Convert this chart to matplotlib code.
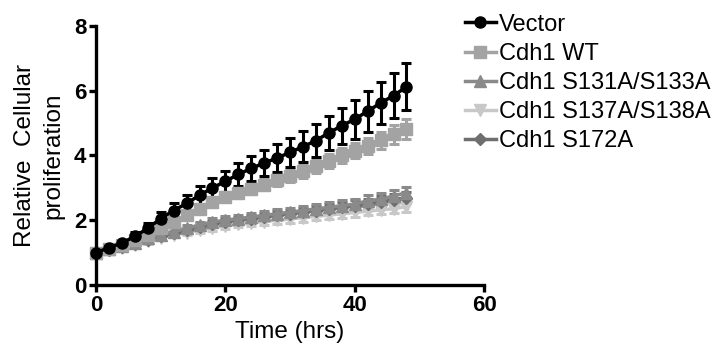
import numpy as np
import matplotlib.pyplot as plt
from matplotlib.lines import Line2D

plt.rcParams['font.family'] = ['Liberation Sans', 'DejaVu Sans']

# Time points (hrs)
hours = list(range(0, 50, 2))

vector = [1.0, 1.15, 1.3, 1.5, 1.75, 2.05, 2.3, 2.52, 2.77, 3.0, 3.2, 3.42, 3.6,
          3.77, 3.92, 4.1, 4.27, 4.46, 4.7, 4.92, 5.12, 5.37, 5.62, 5.85, 6.12]
vector_err = [0.05, 0.08, 0.1, 0.15, 0.18, 0.2, 0.22, 0.25, 0.28, 0.3, 0.33, 0.35, 0.38,
              0.4, 0.42, 0.45, 0.48, 0.5, 0.53, 0.56, 0.6, 0.63, 0.66, 0.7, 0.73]

wt = [1.0, 1.1, 1.25, 1.4, 1.55, 1.75, 1.95, 2.15, 2.35, 2.55, 2.72, 2.85, 2.97,
      3.1, 3.25, 3.38, 3.52, 3.67, 3.82, 4.0, 4.15, 4.3, 4.47, 4.65, 4.82]
wt_err = [0.04, 0.05, 0.06, 0.07, 0.08, 0.09, 0.1, 0.11, 0.12, 0.13, 0.14, 0.15, 0.16,
          0.17, 0.18, 0.19, 0.2, 0.21, 0.22, 0.23, 0.24, 0.25, 0.26, 0.28, 0.3]

s131 = [1.0, 1.1, 1.2, 1.3, 1.45, 1.55, 1.65, 1.75, 1.85, 1.95, 2.0, 2.05, 2.1,
        2.15, 2.2, 2.25, 2.3, 2.35, 2.4, 2.45, 2.5, 2.6, 2.65, 2.75, 2.85]
s131_err = [0.03, 0.04, 0.05, 0.06, 0.07, 0.08, 0.09, 0.1, 0.1, 0.11, 0.12, 0.12, 0.13,
            0.13, 0.14, 0.14, 0.15, 0.15, 0.16, 0.16, 0.17, 0.17, 0.18, 0.18, 0.19]

s137 = [1.0, 1.08, 1.15, 1.25, 1.35, 1.45, 1.55, 1.62, 1.7, 1.77, 1.83, 1.88, 1.92,
        1.96, 2.0, 2.04, 2.08, 2.12, 2.16, 2.2, 2.24, 2.28, 2.32, 2.36, 2.42]
s137_err = [0.03, 0.04, 0.05, 0.06, 0.07, 0.07, 0.08, 0.08, 0.09, 0.09, 0.1, 0.1, 0.1,
            0.11, 0.11, 0.11, 0.12, 0.12, 0.12, 0.13, 0.13, 0.13, 0.14, 0.14, 0.15]

s172 = [1.0, 1.09, 1.18, 1.28, 1.4, 1.5, 1.6, 1.7, 1.8, 1.88, 1.95, 2.0, 2.05,
        2.1, 2.15, 2.2, 2.25, 2.3, 2.35, 2.4, 2.45, 2.5, 2.57, 2.63, 2.7]
s172_err = [0.03, 0.04, 0.05, 0.06, 0.07, 0.08, 0.08, 0.09, 0.1, 0.1, 0.11, 0.11, 0.12,
            0.12, 0.13, 0.13, 0.14, 0.14, 0.15, 0.15, 0.16, 0.16, 0.17, 0.17, 0.18]

# drawn back to front
series = [
    ("Cdh1 S137A/S138A", s137, s137_err, '#c8c8c8', 'v'),
    ("Cdh1 S172A", s172, s172_err, '#6e6e6e', 'D'),
    ("Cdh1 S131A/S133A", s131, s131_err, '#8a8a8a', '^'),
    ("Cdh1 WT", wt, wt_err, '#a3a3a3', 's'),
    ("Vector", vector, vector_err, '#000000', 'o'),
]
legend_order = ["Vector", "Cdh1 WT", "Cdh1 S131A/S133A", "Cdh1 S137A/S138A", "Cdh1 S172A"]

fig = plt.figure(figsize=(7.14, 3.44), dpi=100)
ax = fig.add_axes([0.1345, 0.1715, 0.5435, 0.753])

handles = {}
for name, vals, err, color, marker in series:
    ms = 6.5 if marker == 'D' else 8
    ax.errorbar(hours, vals, yerr=err, color=color, marker=marker, markersize=ms,
                linewidth=2.5, elinewidth=2.2, capsize=3.5, capthick=2.2,
                clip_on=False)
    handles[name] = Line2D([], [], color=color, marker=marker, markersize=ms,
                           linewidth=2.5)

ax.set_xlim(0, 60)
ax.set_ylim(0, 8)
ax.set_xticks([0, 20, 40, 60])
ax.set_yticks([0, 2, 4, 6, 8])
for side in ['top', 'right']:
    ax.spines[side].set_visible(False)
for side in ['left', 'bottom']:
    ax.spines[side].set_linewidth(2.4)
ax.tick_params(width=2.4, length=5, direction='out', labelsize=16, pad=2)
for lbl in ax.get_xticklabels() + ax.get_yticklabels():
    lbl.set_fontweight('bold')

ax.set_xlabel('Time (hrs)', fontsize=17.5, labelpad=4)
ax.set_ylabel('Relative  Cellular\nproliferation', fontsize=17.5, labelpad=7,
              linespacing=1.35)

fig.legend([handles[n] for n in legend_order], legend_order,
           loc='upper left', bbox_to_anchor=(0.651, 0.96), frameon=False,
           borderpad=0, borderaxespad=0,
           fontsize=17, handlelength=1.3, handletextpad=0.15, labelspacing=0.3)

fig.savefig('out.png', dpi=100)
